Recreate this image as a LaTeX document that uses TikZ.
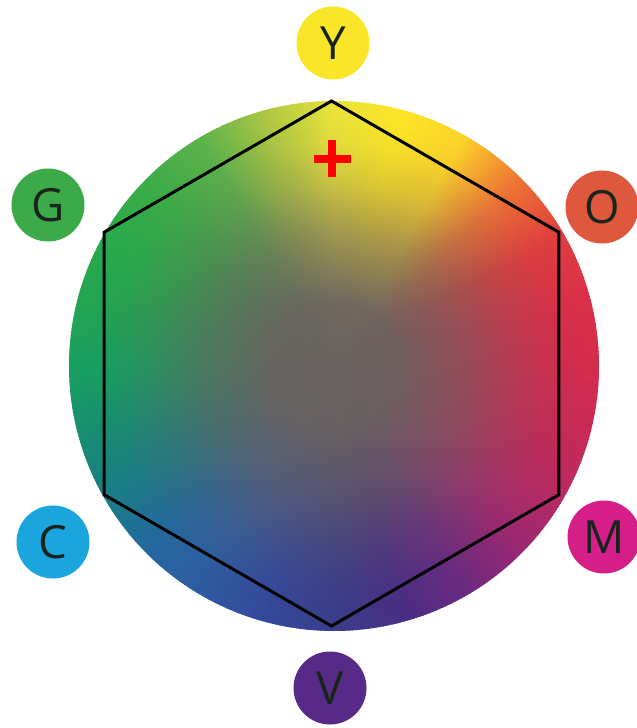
\documentclass[tikz,border=0pt]{standalone}
\usepackage{fontspec}
\setmainfont{Open Sans}
\usepackage{tikz}
\usetikzlibrary{calc, fadings}
\usepackage{xcolor}
\definecolor{hubgrey}{RGB}{106, 98, 96}
\definecolor{inkdark}{RGB}{24, 36, 30}
\definecolor{dotY}{RGB}{250, 230, 40}
\definecolor{dotG}{RGB}{60, 170, 72}
\definecolor{dotO}{RGB}{222, 88, 62}
\definecolor{dotC}{RGB}{26, 165, 220}
\definecolor{dotM}{RGB}{214, 30, 136}
\definecolor{dotV}{RGB}{88, 42, 136}
% rim hues, every 15 degrees from east, counter-clockwise
\definecolor{hue0}{RGB}{212, 44, 76}
\definecolor{hue1}{RGB}{218, 48, 72}
\definecolor{hue2}{RGB}{224, 62, 62}
\definecolor{hue3}{RGB}{238, 116, 52}
\definecolor{hue4}{RGB}{252, 210, 42}
\definecolor{hue5}{RGB}{253, 230, 38}
\definecolor{hue6}{RGB}{232, 226, 58}
\definecolor{hue7}{RGB}{172, 198, 66}
\definecolor{hue8}{RGB}{92, 178, 74}
\definecolor{hue9}{RGB}{60, 172, 72}
\definecolor{hue10}{RGB}{42, 170, 74}
\definecolor{hue11}{RGB}{34, 164, 82}
\definecolor{hue12}{RGB}{24, 160, 96}
\definecolor{hue13}{RGB}{23, 142, 114}
\definecolor{hue14}{RGB}{26, 124, 134}
\definecolor{hue15}{RGB}{36, 104, 160}
\definecolor{hue16}{RGB}{47, 90, 160}
\definecolor{hue17}{RGB}{52, 72, 154}
\definecolor{hue18}{RGB}{58, 61, 138}
\definecolor{hue19}{RGB}{74, 46, 132}
\definecolor{hue20}{RGB}{106, 42, 128}
\definecolor{hue21}{RGB}{154, 40, 114}
\definecolor{hue22}{RGB}{184, 42, 98}
\definecolor{hue23}{RGB}{200, 42, 86}
\pgfdeclareradialshading{wheelmask}{\pgfpointorigin}{color(0bp)=(white); color(6bp)=(white!95!black); color(12.5bp)=(white!58!black); color(17.5bp)=(white!22!black); color(21bp)=(white!5!black); color(23.5bp)=(black); color(50bp)=(black)}
\pgfdeclarefading{wheelfade}{\pgfuseshading{wheelmask}}

\begin{document}
\begin{tikzpicture}[font=\small,
    hue dot/.style={circle, minimum size=1.46cm, inner sep=0pt, text=inkdark, font=\fontsize{26}{30}\selectfont}]
  \useasboundingbox (-6.68, -7.24) rectangle (6.04, 7.32);
  % Wheel
  \coordinate (hub) at (0, 0);
  \foreach \k in {0,...,23} {
    \pgfmathtruncatemacro{\nxt}{mod(\k+1, 24)}
    \foreach \j in {0,...,19} {
      \pgfmathtruncatemacro{\mixp}{100-5*\j}
      \pgfmathsetmacro{\angA}{15*\k+0.75*\j}
      \fill[hue\k!\mixp!hue\nxt] (hub) -- ++(\angA:5.3) arc[start angle=\angA, end angle=\angA+1.1, radius=5.3] -- cycle;
    }
  }
  \fill[hubgrey, path fading=wheelfade] (hub) circle (5.3);
  % Hexagon
  \foreach \a [count=\i] in {90, 30, -30, -90, -150, 150}
    \coordinate (h\i) at ($(-0.05, 0.05)+(\a:5.25)$);
  \draw[line width=1.7pt, line join=miter] (h1) -- (h2) -- (h3) -- (h4) -- (h5) -- (h6) -- cycle;
  % Marker
  \coordinate (mark) at (-0.04, 4.14);
  \draw[red, line width=4pt] ($(mark)+(-0.37, 0)$) -- ($(mark)+(0.37, 0)$);
  \draw[red, line width=4pt] ($(mark)+(0, -0.37)$) -- ($(mark)+(0, 0.37)$);
  % Labels
  \foreach \nm/\x/\y in {Y/-0.02/6.46, G/-5.72/3.22, O/5.36/3.18, C/-5.62/-3.52, M/5.4/-3.42, V/-0.08/-6.44}
    \node[hue dot, fill=dot\nm] (\nm) at (\x, \y) {\nm};
\end{tikzpicture}
\end{document}
